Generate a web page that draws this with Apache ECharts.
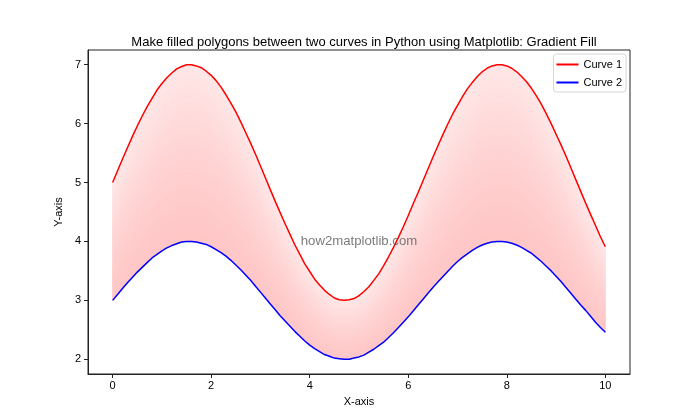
<!DOCTYPE html>
<html><head><meta charset="utf-8">
<script src="https://cdn.jsdelivr.net/npm/echarts@6/dist/echarts.min.js"></script>
<style>html,body{margin:0;padding:0;background:#fff}#c{width:700px;height:420px}</style>
</head><body><div id="c"></div>
<script>
const xValues = [0,0.1,0.2,0.3,0.4,0.5,0.6,0.7,0.8,0.9,1,1.1,1.2,1.3,1.4,1.5,1.6,1.7,1.8,1.9,2,2.1,2.2,2.3,2.4,2.5,2.6,2.7,2.8,2.9,3,3.1,3.2,3.3,3.4,3.5,3.6,3.7,3.8,3.9,4,4.1,4.2,4.3,4.4,4.5,4.6,4.7,4.8,4.9,5,5.1,5.2,5.3,5.4,5.5,5.6,5.7,5.8,5.9,6,6.1,6.2,6.3,6.4,6.5,6.6,6.7,6.8,6.9,7,7.1,7.2,7.3,7.4,7.5,7.6,7.7,7.8,7.9,8,8.1,8.2,8.3,8.4,8.5,8.6,8.7,8.8,8.9,9,9.1,9.2,9.3,9.4,9.5,9.6,9.7,9.8,9.9,10];
const curve1 = [5.00,5.20,5.40,5.59,5.78,5.96,6.13,6.29,6.43,6.57,
  6.68,6.78,6.86,6.93,6.97,7.00,7.00,6.98,6.95,6.89,
  6.82,6.73,6.62,6.49,6.35,6.20,6.03,5.85,5.67,5.48,
  5.28,5.08,4.88,4.68,4.49,4.30,4.12,3.94,3.78,3.62,
  3.49,3.36,3.26,3.17,3.10,3.04,3.01,3.00,3.01,3.03,
  3.08,3.15,3.23,3.34,3.45,3.59,3.74,3.90,4.07,4.25,
  4.44,4.64,4.83,5.03,5.23,5.43,5.62,5.81,5.99,6.16,
  6.31,6.46,6.59,6.70,6.80,6.88,6.94,6.98,7.00,7.00,
  6.98,6.94,6.88,6.80,6.71,6.60,6.47,6.33,6.17,6.00,
  5.82,5.64,5.45,5.25,5.05,4.85,4.65,4.46,4.27,4.08,
  3.91];
const curve2 = [3.00,3.10,3.20,3.30,3.39,3.48,3.56,3.64,3.72,3.78,
  3.84,3.89,3.93,3.96,3.99,4.00,4.00,3.99,3.97,3.95,
  3.91,3.86,3.81,3.75,3.68,3.60,3.52,3.43,3.34,3.24,
  3.14,3.04,2.94,2.84,2.74,2.65,2.56,2.47,2.39,2.31,
  2.24,2.18,2.13,2.08,2.05,2.02,2.01,2.00,2.00,2.02,
  2.04,2.07,2.12,2.17,2.23,2.29,2.37,2.45,2.54,2.63,
  2.72,2.82,2.92,3.02,3.12,3.22,3.31,3.40,3.49,3.58,
  3.66,3.73,3.79,3.85,3.90,3.94,3.97,3.99,4.00,4.00,
  3.99,3.97,3.94,3.90,3.85,3.80,3.73,3.66,3.58,3.50,
  3.41,3.32,3.22,3.12,3.02,2.92,2.83,2.73,2.63,2.54,
  2.46];
const xTicks = [0,2,4,6,8,10];
const yTicks = [2,3,4,5,6,7];
const seriesNames = ['Curve 1','Curve 2'];
const title = 'Make filled polygons between two curves in Python using Matplotlib: Gradient Fill';
const watermark = 'how2matplotlib.com';

const FONT = 'Liberation Sans';
const N = 40;

function bandColor(k){
  const t = Math.pow(k/(N-1), 1.3); // 0 bottom -> 1 top
  const g = Math.round(0xc6 + (0xe6-0xc6)*t);
  return 'rgb(255,'+g+','+g+')';
}

function buildBands(){
  const out = [];
  for (let k=0;k<N;k++){
    const f0 = k/N, f1 = (k+1)/N;
    const pts = [];
    for (let i=0;i<xValues.length;i++) pts.push(chart.convertToPixel({gridIndex:0}, [xValues[i], curve2[i] + (curve1[i]-curve2[i])*f0]));
    for (let i=xValues.length-1;i>=0;i--) pts.push(chart.convertToPixel({gridIndex:0}, [xValues[i], curve2[i] + (curve1[i]-curve2[i])*f1]));
    const c = bandColor(k);
    out.push({type:'polygon', z:1, silent:true, shape:{points:pts}, style:{fill:c, stroke:c, lineWidth:0.8}});
  }
  return out;
}

const series = [];
series.push({name:seriesNames[0], type:'line', data:xValues.map((x,i)=>[x,curve1[i]]), showSymbol:false, lineStyle:{color:'#ff0000', width:1.5}, itemStyle:{color:'#ff0000'}, z:5});
series.push({name:seriesNames[1], type:'line', data:xValues.map((x,i)=>[x,curve2[i]]), showSymbol:false, lineStyle:{color:'#0000ff', width:1.5}, itemStyle:{color:'#0000ff'}, z:5});

const chart = echarts.init(document.getElementById('c'), null, {renderer:'canvas'});
chart.setOption({
  animation:false,
  title:{text:title, left:359, top:31, textAlign:'center', textStyle:{fontFamily:FONT, fontSize:13, fontWeight:'normal', color:'#000'}},
  grid:{left:88, right:70, top:50, bottom:46, show:true, borderColor:'#222', borderWidth:1, backgroundColor:'transparent'},
  legend:{data:seriesNames, right:74, top:54, orient:'vertical', itemWidth:22, itemHeight:2, icon:'rect', itemGap:7,
    backgroundColor:'#fff', borderColor:'#d6d6d6', borderWidth:1, borderRadius:3, padding:[5,4,4,3], z:10,
    textStyle:{fontFamily:FONT, fontSize:11, color:'#000'}},
  xAxis:{type:'value', min:-0.5, max:10.5, name:'X-axis', nameLocation:'middle', nameGap:22,
    nameTextStyle:{fontFamily:FONT, fontSize:11, color:'#000'},
    axisLine:{show:true, onZero:false, lineStyle:{color:'#222'}}, splitLine:{show:false},
    axisTick:{show:true, customValues:xTicks, length:4, lineStyle:{color:'#222'}},
    axisLabel:{customValues:xTicks, fontFamily:FONT, fontSize:11, color:'#000', margin:6}},
  yAxis:{type:'value', min:1.75, max:7.25, name:'Y-axis', nameLocation:'middle', nameGap:19, nameRotate:90,
    nameTextStyle:{fontFamily:FONT, fontSize:11, color:'#000'},
    axisLine:{show:true, onZero:false, lineStyle:{color:'#222'}}, splitLine:{show:false},
    axisTick:{show:true, customValues:yTicks, length:4, lineStyle:{color:'#222'}},
    axisLabel:{customValues:yTicks, fontFamily:FONT, fontSize:11, color:'#000', margin:7}},
  series:series
});
chart.setOption({
  graphic:[{type:'group', z:1, children:buildBands()},
    {type:'text', x:359, y:241, z:100, style:{text:watermark, align:'center', verticalAlign:'middle', fontFamily:FONT, fontSize:13.2, fill:'rgba(90,90,90,0.8)'}}]
});
</script></body></html>
